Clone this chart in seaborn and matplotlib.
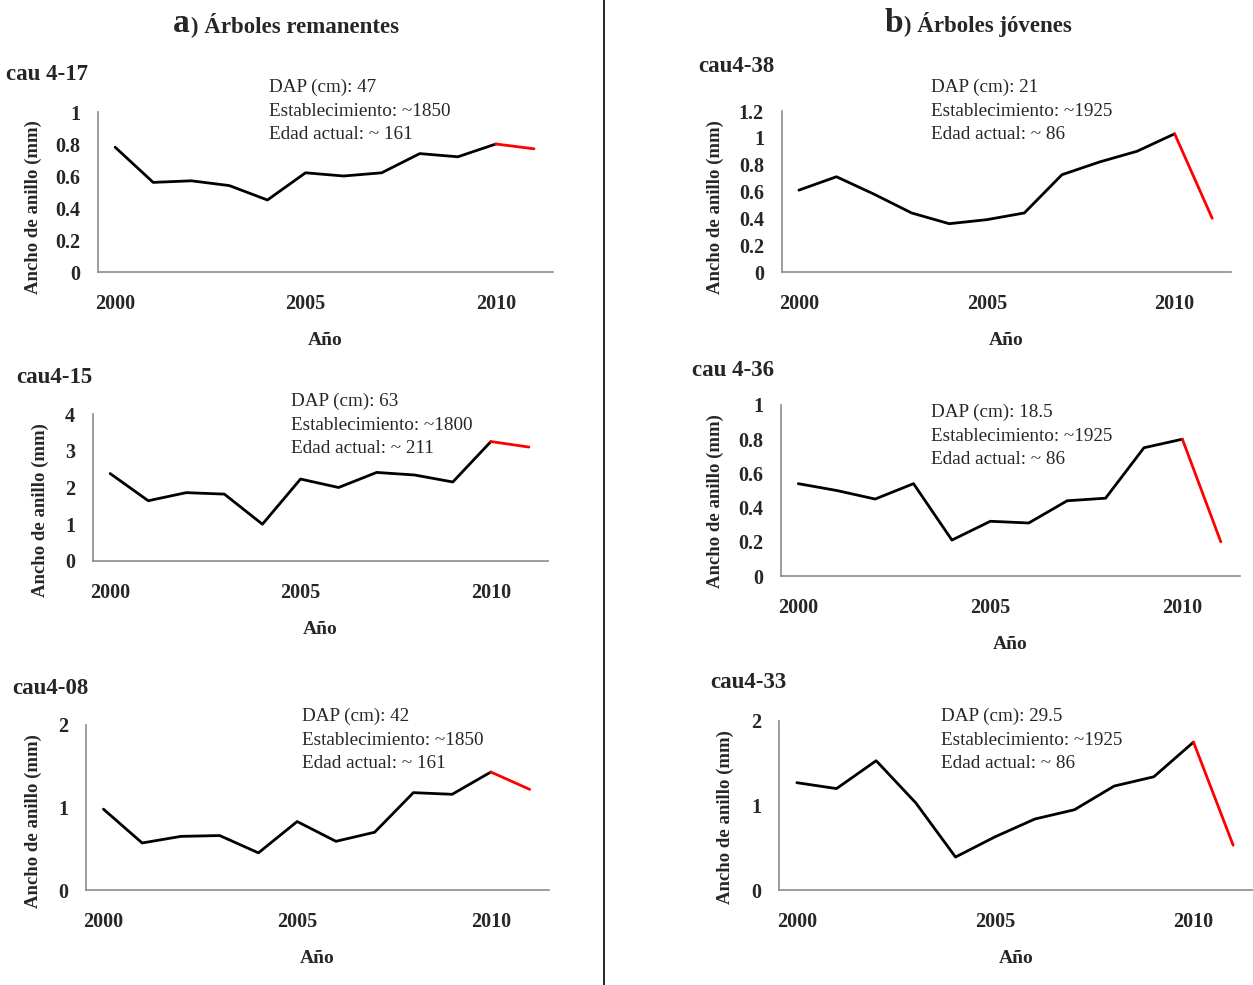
import numpy as np
import pandas as pd
import matplotlib
matplotlib.use('Agg')
import matplotlib.pyplot as plt
from matplotlib.ticker import FuncFormatter
import seaborn as sns

# ring width series (mm), years 2000-2011
years = list(range(2000, 2012))
cau4_17 = [0.78, 0.56, 0.57, 0.54, 0.45, 0.62, 0.60, 0.62, 0.74, 0.72, 0.80, 0.77]
cau4_15 = [2.38, 1.64, 1.86, 1.82, 1.00, 2.23, 2.00, 2.41, 2.34, 2.15, 3.25, 3.10]
cau4_08 = [0.98, 0.57, 0.65, 0.66, 0.45, 0.83, 0.59, 0.70, 1.18, 1.16, 1.43, 1.22]
cau4_38 = [0.61, 0.71, 0.58, 0.44, 0.36, 0.39, 0.44, 0.725, 0.82, 0.90, 1.03, 0.40]
cau4_36 = [0.54, 0.50, 0.45, 0.54, 0.21, 0.32, 0.31, 0.44, 0.455, 0.75, 0.80, 0.20]
cau4_33 = [1.27, 1.20, 1.53, 1.03, 0.39, 0.63, 0.84, 0.95, 1.23, 1.34, 1.75, 0.53]

names = ['cau 4-17', 'cau4-15', 'cau4-08', 'cau4-38', 'cau 4-36', 'cau4-33']
dap = ['47', '63', '42', '21', '18.5', '29.5']
establecimiento = ['~1850', '~1800', '~1850', '~1925', '~1925', '~1925']
edad = ['~ 161', '~ 211', '~ 161', '~ 86', '~ 86', '~ 86']
ymax = [1, 4, 2, 1.2, 1, 2]
ystep = [0.2, 1, 1, 0.2, 0.2, 1]
series = [cau4_17, cau4_15, cau4_08, cau4_38, cau4_36, cau4_33]

sns.set_style('white')
plt.rcParams['font.family'] = ['Liberation Serif', 'DejaVu Serif']

W, H = 1253, 985
fig = plt.figure(figsize=(W / 100, H / 100), dpi=100)

# pixel boxes (left, top, right, bottom) for each panel
boxes = [(98, 112, 553, 272), (93, 414, 548, 561), (86, 725, 549, 890),
         (782, 111, 1231, 272), (781, 405, 1240, 576), (779, 721, 1253, 890)]
title_pos = [(6, 74), (16, 377), (12, 688), (698, 67), (692, 371), (710, 683)]
note_pos = [(269, 87), (291, 401), (302, 716), (931, 87), (931, 412), (941, 716)]
ylab_pos = [(33, 207), (40, 510), (33, 821), (715, 207), (715, 501), (725, 817)]

for i in range(6):
    l, t, r, b = boxes[i]
    ax = fig.add_axes([l / W, 1 - b / H, (r - l) / W, (b - t) / H])
    df = pd.DataFrame({'year': years, 'width': series[i]})
    sns.lineplot(data=df[df.year <= 2010], x='year', y='width', color='black', lw=2, ax=ax)
    sns.lineplot(data=df[df.year >= 2010], x='year', y='width', color='#ff0000', lw=2, ax=ax)
    ax.set_xlim(1999.55, 2011.5)
    ax.set_ylim(0, ymax[i])
    ax.set_xticks([2000, 2005, 2010])
    ax.set_yticks(np.arange(0, ymax[i] + 1e-9, ystep[i]))
    ax.yaxis.set_major_formatter(FuncFormatter(lambda v, p: '%g' % round(v, 2)))
    ax.tick_params(length=0, labelsize=14.5)
    ax.tick_params(axis='x', pad=16)
    ax.tick_params(axis='y', pad=13)
    for lab in ax.get_xticklabels() + ax.get_yticklabels():
        lab.set_fontweight('bold')
    for s in ['top', 'right']:
        ax.spines[s].set_visible(False)
    for s in ['left', 'bottom']:
        ax.spines[s].set_color('#8c8c8c')
        ax.spines[s].set_linewidth(1.2)
    ax.set_ylabel('')
    ax.set_xlabel('Año', fontsize=14, fontweight='bold', labelpad=13)
    ax.patch.set_alpha(0)

    tx, ty = title_pos[i]
    fig.text(tx / W, 1 - ty / H, names[i], fontsize=16.5, fontweight='bold', va='center', ha='left')
    nx, ny = note_pos[i]
    fig.text(nx / W, 1 - (ny - 8) / H,
             'DAP (cm): %s\nEstablecimiento: %s\nEdad actual: %s' % (dap[i], establecimiento[i], edad[i]),
             fontsize=13.8, va='top', ha='left', linespacing=1.48)
    yx, yy = ylab_pos[i]
    fig.text(yx / W, 1 - yy / H, 'Ancho de anillo (mm)', rotation=90, fontsize=13.5,
             fontweight='bold', ha='center', va='center')

# column headers
fig.text(190 / W, 1 - 32 / H, 'a', fontsize=24, fontweight='bold', ha='right', va='baseline')
fig.text(191 / W, 1 - 32 / H, ') Árboles remanentes', fontsize=16.5, fontweight='bold', ha='left', va='baseline')
fig.text(903 / W, 1 - 32 / H, 'b', fontsize=24, fontweight='bold', ha='right', va='baseline')
fig.text(904 / W, 1 - 32 / H, ') Árboles jóvenes', fontsize=16.5, fontweight='bold', ha='left', va='baseline')

# separator between the two columns
fig.add_artist(plt.Line2D([604 / W, 604 / W], [0, 1], color='black', lw=1.2, transform=fig.transFigure))

fig.savefig('out.png', dpi=100)
